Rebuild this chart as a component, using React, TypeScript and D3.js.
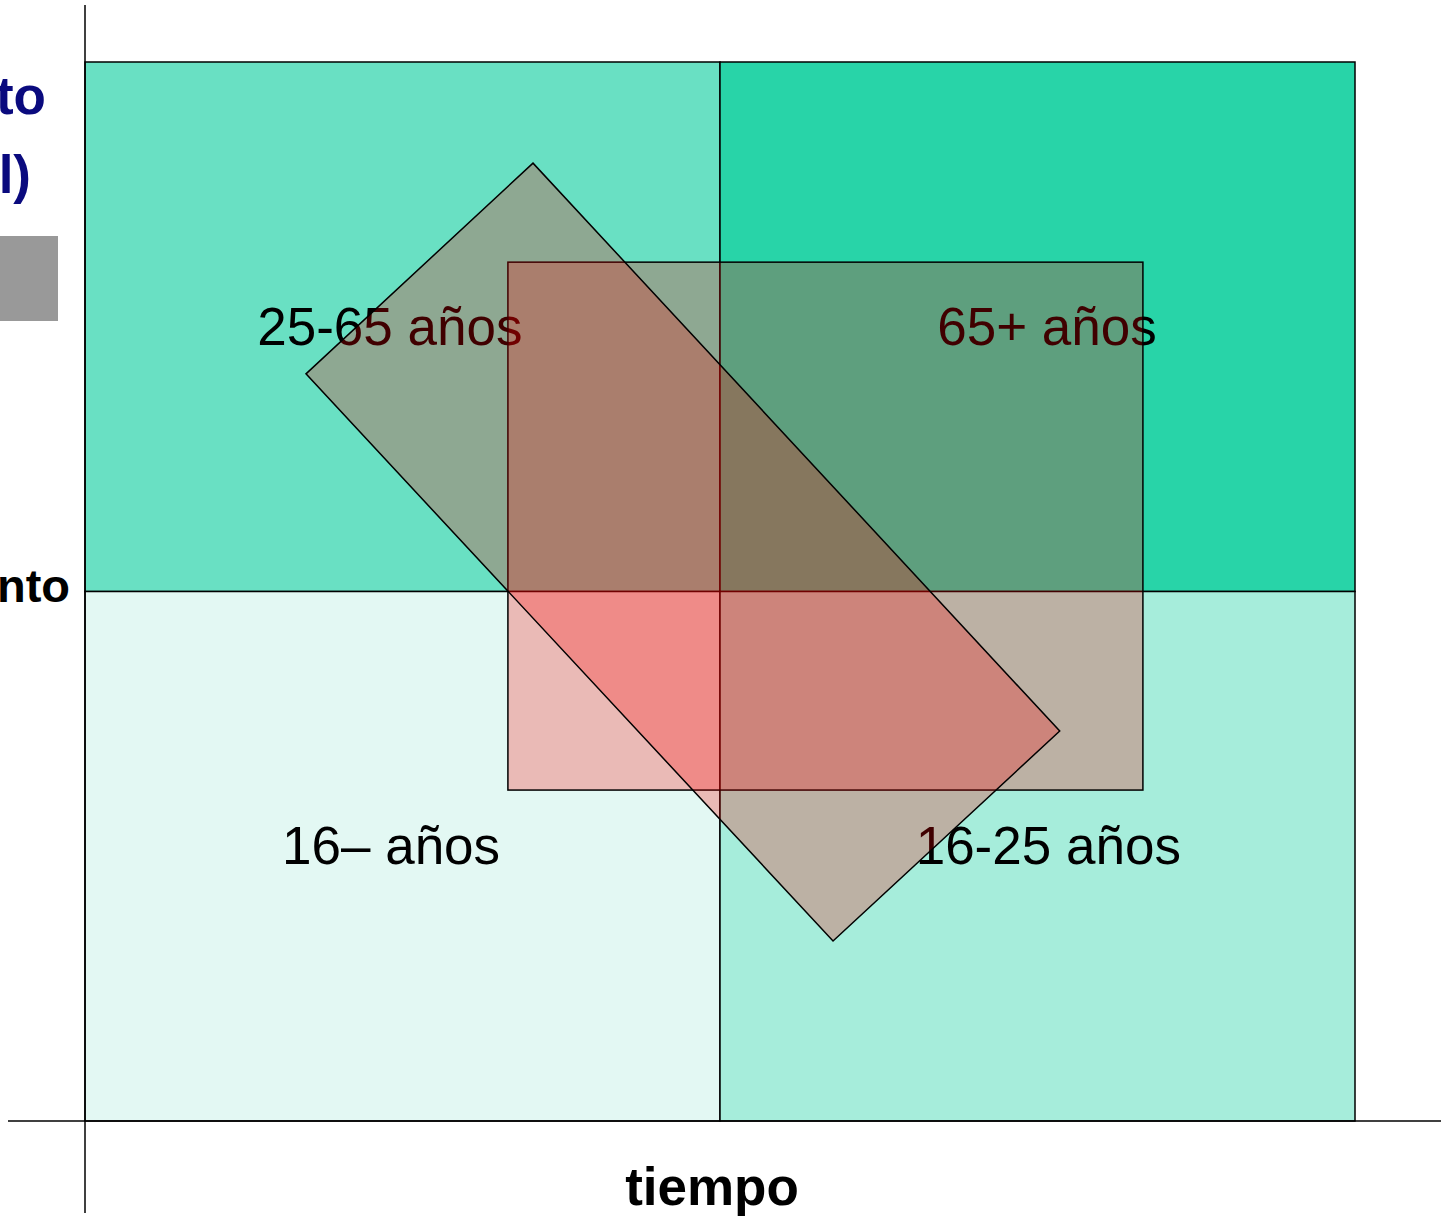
import { useEffect, useRef } from "react";
import * as d3 from "d3";

// quadrants in data units (time on x, growth on y)
const quadrantCols = [0, 1];
const quadrantRows = [1, 0];
const quadrantLabels = ["25-65 años", "65+ años", "16– años", "16-25 años"];
const labelX = [0.48, 1.515, 0.482, 1.517];
const labelY = [1.5, 1.5, 0.521, 0.521];

// overlay shapes
const boxX = [0.666, 1.666];
const boxY = [0.625, 1.622];
const tiltedX = [0.7055, 1.535, 1.178, 0.348];
const tiltedY = [1.809, 0.7365, 0.34, 1.411];

const xTitle = "tiempo";

const App = () => {
  const ref = useRef<SVGSVGElement | null>(null);

  useEffect(() => {
    if (!ref.current) return;
    document.body.style.margin = "0";
    const W = 1441;
    const H = 1217;
    const svg = d3.select(ref.current).html("").attr("width", W).attr("height", H);

    const x = d3.scaleLinear().domain([0, 2]).range([85, 1355]);
    const y = d3.scaleLinear().domain([0, 2]).range([1121, 62]);
    const quadColor = d3.scaleOrdinal<number, string>()
      .domain([0, 1, 2, 3])
      .range(["#69e0c3", "#28d4a8", "#e3f8f3", "#a6eddb"]);
    const font = "'Liberation Sans', Arial, sans-serif";

    // left-side clipped texts from the slide
    svg.append("text").attr("x", 46).attr("y", 114).attr("text-anchor", "end")
      .attr("font-family", font).attr("font-weight", "bold").attr("font-size", 53)
      .attr("fill", "#0a0a7e").text("to");
    svg.append("text").attr("x", 31).attr("y", 193).attr("text-anchor", "end")
      .attr("font-family", font).attr("font-weight", "bold").attr("font-size", 53)
      .attr("fill", "#0a0a7e").text("l)");
    svg.append("rect").attr("x", 0).attr("y", 236).attr("width", 58).attr("height", 85)
      .attr("fill", "#999999");
    svg.append("text").attr("x", 70).attr("y", 602).attr("text-anchor", "end")
      .attr("font-family", font).attr("font-weight", "bold").attr("font-size", 47)
      .attr("fill", "#000").text("nto");

    // quadrants
    const cells = quadrantLabels.map((label, i) => ({
      i,
      label,
      col: quadrantCols[i % 2],
      row: quadrantRows[Math.floor(i / 2)],
      lx: labelX[i],
      ly: labelY[i],
    }));

    svg.selectAll("rect.quad")
      .data(cells)
      .join("rect")
      .attr("class", "quad")
      .attr("x", (d) => x(d.col))
      .attr("y", (d) => y(d.row + 1))
      .attr("width", x(1) - x(0))
      .attr("height", y(0) - y(1))
      .attr("fill", (d) => quadColor(d.i))
      .attr("stroke", "#000")
      .attr("stroke-width", 1.5);

    // axes
    svg.append("line").attr("x1", x(0)).attr("x2", x(0)).attr("y1", 5).attr("y2", 1213)
      .attr("stroke", "#000").attr("stroke-width", 1.5);
    svg.append("line").attr("x1", 8).attr("x2", W).attr("y1", y(0)).attr("y2", y(0))
      .attr("stroke", "#000").attr("stroke-width", 1.5);

    // labels (under the overlays)
    svg.selectAll("text.lab")
      .data(cells)
      .join("text")
      .attr("class", "lab")
      .attr("x", (d) => x(d.lx))
      .attr("y", (d) => y(d.ly))
      .attr("dy", "0.35em")
      .attr("text-anchor", "middle")
      .attr("font-family", font)
      .attr("font-size", 53)
      .attr("fill", "#000")
      .text((d) => d.label);

    // red box
    svg.append("rect")
      .attr("x", x(boxX[0]))
      .attr("y", y(boxY[1]))
      .attr("width", x(boxX[1]) - x(boxX[0]))
      .attr("height", y(boxY[0]) - y(boxY[1]))
      .attr("fill", "#ff0000")
      .attr("fill-opacity", 0.25)
      .attr("stroke", "#000")
      .attr("stroke-width", 1.5);

    // tilted box
    const pts: [number, number][] = tiltedX.map((v, i) => [x(v), y(tiltedY[i])]);
    svg.append("path")
      .attr("d", d3.line()(pts) + "Z")
      .attr("fill", "#ff0000")
      .attr("fill-opacity", 0.25)
      .attr("stroke", "#000")
      .attr("stroke-width", 1.5);

    svg.append("text")
      .attr("x", 712)
      .attr("y", 1205)
      .attr("text-anchor", "middle")
      .attr("font-family", font)
      .attr("font-weight", "bold")
      .attr("font-size", 53)
      .text(xTitle);
  }, []);

  return <svg ref={ref} style={{ display: "block" }}></svg>;
};

export default App;
